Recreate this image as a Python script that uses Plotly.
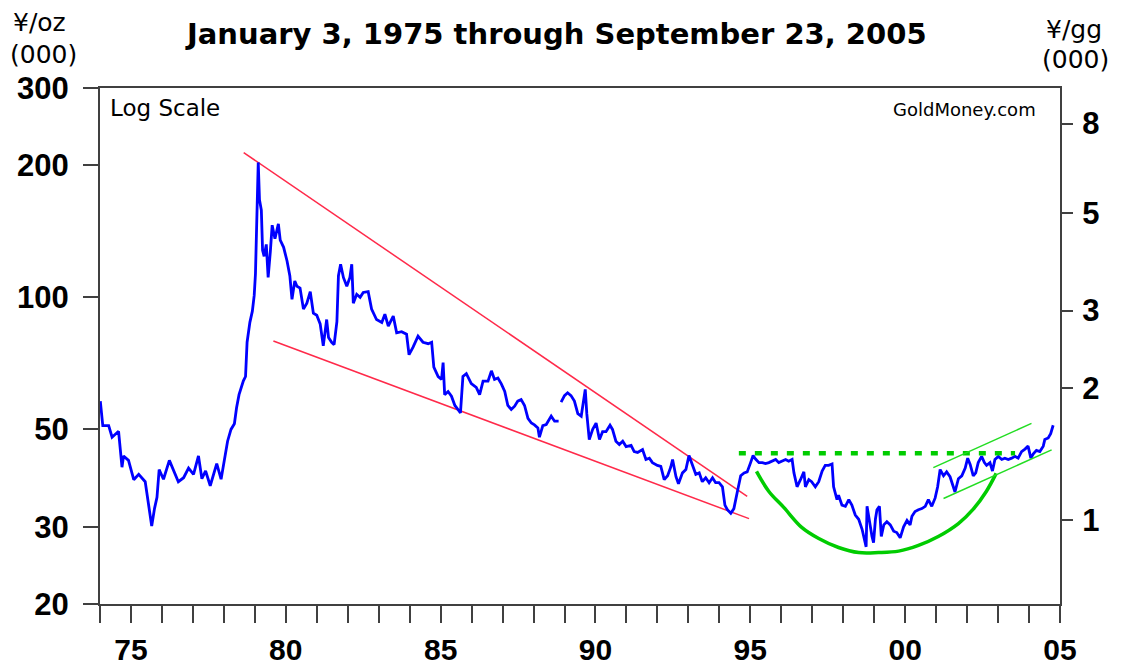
import plotly.graph_objects as go
import math

# ---- Data (thousand yen per ounce), decimal years ----
gold_years = [
    1975.01, 1975.09, 1975.28, 1975.39, 1975.60, 1975.71, 1975.76, 1975.92,
    1976.09, 1976.25, 1976.46, 1976.57, 1976.67, 1976.76, 1976.84, 1976.91,
    1977.05, 1977.24, 1977.41, 1977.53, 1977.70, 1977.86, 1978.02, 1978.18,
    1978.29, 1978.41, 1978.56, 1978.77, 1978.91, 1979.02, 1979.12, 1979.23,
    1979.34, 1979.41, 1979.49, 1979.63, 1979.70, 1979.75, 1979.84, 1979.92,
    1979.98, 1980.02, 1980.07, 1980.11, 1980.15, 1980.21, 1980.25, 1980.30,
    1980.37, 1980.43, 1980.50, 1980.56, 1980.65, 1980.76, 1980.82, 1980.93,
    1981.04, 1981.13, 1981.20, 1981.29,
    1981.36, 1981.46, 1981.57, 1981.68, 1981.79, 1981.89, 1982.00, 1982.11,
    1982.21, 1982.32, 1982.38, 1982.48, 1982.56, 1982.65, 1982.70, 1982.77,
    1982.86, 1982.97, 1983.07, 1983.13, 1983.18, 1983.29, 1983.40, 1983.50,
    1983.66, 1983.77, 1983.93, 1984.10, 1984.20, 1984.31, 1984.47, 1984.58,
    1984.74, 1984.90, 1984.98, 1985.11, 1985.27, 1985.43, 1985.60, 1985.71,
    1985.78, 1985.92, 1986.03, 1986.08, 1986.13, 1986.24, 1986.35, 1986.46,
    1986.56, 1986.64, 1986.72, 1986.83, 1986.99, 1987.15, 1987.26,
    1987.37, 1987.53, 1987.64, 1987.74, 1987.85, 1987.96, 1988.07, 1988.17,
    1988.28, 1988.39, 1988.49, 1988.60, 1988.71, 1988.82, 1988.93, 1989.03,
    1989.14, 1989.19, 1989.30, 1989.41, 1989.57, 1989.68, 1989.81, 1989.85,
    1989.89, 1990.00, 1990.10, 1990.21, 1990.32, 1990.43, 1990.54, 1990.61,
    1990.67, 1990.72, 1990.80, 1990.91, 1991.02, 1991.13, 1991.23, 1991.34,
    1991.47, 1991.55, 1991.66, 1991.77, 1991.88, 1991.99, 1992.15, 1992.25,
    1992.36, 1992.52, 1992.63, 1992.74, 1992.84, 1993.00, 1993.11, 1993.22,
    1993.33, 1993.43, 1993.49, 1993.60, 1993.68,
    1993.81, 1993.92, 1994.02, 1994.13, 1994.24, 1994.35, 1994.45, 1994.56,
    1994.67, 1994.78, 1994.88, 1994.99, 1995.10, 1995.18, 1995.26, 1995.37,
    1995.47, 1995.58, 1995.69, 1995.80, 1995.90, 1996.01, 1996.09, 1996.17,
    1996.28, 1996.39, 1996.49, 1996.60, 1996.71, 1996.82, 1996.92, 1997.03,
    1997.14, 1997.24, 1997.35, 1997.41, 1997.51, 1997.62, 1997.73, 1997.78,
    1997.89, 1997.98, 1998.10, 1998.21, 1998.32, 1998.42, 1998.53, 1998.64,
    1998.69, 1998.80, 1998.85, 1998.96, 1999.07, 1999.18, 1999.28, 1999.39,
    1999.50, 1999.61,
    1999.66, 1999.74, 1999.77, 1999.82, 1999.93, 1999.98, 2000.04, 2000.09,
    2000.17, 2000.23, 2000.31, 2000.41, 2000.52, 2000.63, 2000.73, 2000.84,
    2000.95, 2001.06, 2001.16, 2001.22, 2001.32, 2001.43, 2001.54, 2001.65,
    2001.75, 2001.86, 2001.97, 2002.05, 2002.13, 2002.24, 2002.34, 2002.45,
    2002.56, 2002.61, 2002.72, 2002.83, 2002.94, 2003.02, 2003.10, 2003.20,
    2003.28, 2003.36, 2003.47, 2003.56, 2003.63, 2003.74, 2003.82, 2003.90,
    2004.01, 2004.12, 2004.22, 2004.33, 2004.44, 2004.55, 2004.65, 2004.76,
    2004.87, 2004.97, 2005.06, 2005.14, 2005.24, 2005.35, 2005.46, 2005.51,
    2005.62, 2005.70, 2005.78,
]
gold_values = [
    58, 51, 51, 48, 49.5, 41, 43.5, 42.5,
    38.4, 39.5, 38, 34, 30.1, 33, 35, 40.5,
    38.5, 42.5, 40, 38, 38.8, 40.8, 39.5, 43.5,
    38.6, 40.2, 37.2, 41.8, 38.5, 42.5, 47, 50,
    51.5, 56, 60, 64.5, 66, 79, 87.7, 93,
    101, 113, 172, 203, 167, 158, 128, 124,
    132, 111, 127, 146, 136, 147, 135, 130,
    121, 112, 99, 109,
    106, 105, 94, 97, 103, 92, 91, 87,
    77.5, 89, 81, 79, 78, 88, 112, 119,
    111, 106, 111, 119, 97, 101.6, 100, 102.6,
    103, 94, 89, 87.6, 91.5, 86, 90.6, 83,
    83.5, 82.4, 74, 77, 81.6, 79, 78.4, 79,
    69.3, 66, 65, 71, 60, 61, 59.5, 56.7,
    55.5, 54.5, 66, 67, 63.6, 62.3, 60,
    64.4, 64.4, 68, 65, 65.5, 63.5, 61, 56.7,
    55.5, 56.5, 58, 58.5, 56.7, 53, 51.7, 51.2,
    50.4, 48, 51, 51.3, 53.6, 52.2, 52.2, None,
    57.7, 59.7, 60.6, 59.7, 58, 54.3, 53.6, 57.7,
    61.7, 54.3, 47.4, 50, 51.7, 47.4, 49.4, 49.4,
    51.1, 50, 47, 46.2, 47, 45.7, 46, 44.5,
    44.3, 45, 42.7, 43, 42, 41.4, 41.2, 38.4,
    39.2, 41, 42.7, 39, 37.6,
    39.8, 40.5, 43.6, 41.4, 39.5, 39.8, 38, 38.8,
    37.8, 38.8, 37.8, 37.8, 37, 33.6, 32.8, 32.2,
    33, 36, 39.2, 39.8, 40, 42, 43.6, 42.8,
    42, 42, 41.8, 42, 42.3, 42.7, 42, 42.3,
    42.7, 42.3, 42.7, 39.8, 37, 38.4, 40, 37,
    38.4, 38, 37, 38, 40.2, 41.4, 41.4, 41.7,
    37, 34.6, 35.4, 33.6, 33.4, 34.6, 33.6, 31.9,
    31.2, 29.6,
    28.5, 27, 33.4, 31.7, 28.5, 27.6, 31.2, 32.8,
    33.4, 28.5, 30.3, 30.8, 30.3, 29.3, 29.1, 28.3,
    30, 31, 30.3, 31.7, 32.5, 32.8, 33, 33.4,
    34.6, 33.4, 34.9, 37, 40.5, 39.2, 40, 39,
    37, 36, 38.6, 39.2, 40.8, 43, 41.6, 39.2,
    39.8, 42, 43.4, 42, 41.4, 42, 40.2, 42.7,
    43.4, 42.7, 43, 42.7, 43, 43.4, 43, 44.5,
    45.1, 45.8, 43, 44, 44.8, 44.5, 45.8, 47.4,
    47.8, 48.9, 51.1,
]

# Trend lines drawn on the chart (decimal year, thousand yen/oz)
upper_red_years = [1979.64, 1995.90]
upper_red_values = [213.7, 35.2]
lower_red_years = [1980.60, 1995.96]
lower_red_values = [79.5, 31.3]
resistance_years = [1995.63, 2004.55]
resistance_values = [44.1, 44.1]
cup_years = [1996.20, 1996.60, 1997.08, 1997.66, 1998.21, 1998.85, 1999.50,
             2000.14, 2000.79, 2001.43, 2002.07, 2002.72, 2003.20, 2003.62, 2003.94]
cup_values = [40.1, 36.1, 33.2, 29.9, 28.2, 26.9, 26.2,
              26.2, 26.4, 27.2, 28.5, 30.5, 32.9, 36.1, 39.7]
channel_upper_years = [2001.91, 2005.08]
channel_upper_values = [40.9, 51.6]
channel_lower_years = [2002.24, 2005.73]
channel_lower_values = [34.8, 44.9]

# Axis ticks
left_ticks = [20, 30, 50, 100, 200, 300]
right_ticks = [1, 2, 3, 5, 8]
year_label_pos = [1976, 1981, 1986, 1991, 1996, 2001, 2006]
year_labels = ["75", "80", "85", "90", "95", "00", "05"]
OZ_PER_GG = 31.1035

fig = go.Figure()

fig.add_trace(go.Scatter(x=upper_red_years, y=upper_red_values, mode="lines",
                         line=dict(color="#ff2a4a", width=1.5), hoverinfo="skip"))
fig.add_trace(go.Scatter(x=lower_red_years, y=lower_red_values, mode="lines",
                         line=dict(color="#ff2a4a", width=1.5), hoverinfo="skip"))
fig.add_trace(go.Scatter(x=gold_years, y=gold_values, mode="lines",
                         connectgaps=False,
                         line=dict(color="#0000ff", width=2.8)))
fig.add_trace(go.Scatter(x=resistance_years, y=resistance_values, mode="lines",
                         line=dict(color="#00cc00", width=4.5, dash="7px,9px"), hoverinfo="skip"))
fig.add_trace(go.Scatter(x=cup_years, y=cup_values, mode="lines",
                         line=dict(color="#00cc00", width=3.5, shape="spline"), hoverinfo="skip"))
fig.add_trace(go.Scatter(x=channel_upper_years, y=channel_upper_values, mode="lines",
                         line=dict(color="#22dd22", width=1.5), hoverinfo="skip"))
fig.add_trace(go.Scatter(x=channel_lower_years, y=channel_lower_values, mode="lines",
                         line=dict(color="#22dd22", width=1.5), hoverinfo="skip"))
# right axis (yen per goldgram)
fig.add_trace(go.Scatter(x=[gold_years[0]], y=[gold_values[0] / OZ_PER_GG], yaxis="y2",
                         mode="markers", marker=dict(opacity=0), hoverinfo="skip"))

tick_font = dict(family="Liberation Sans, Arial, sans-serif", size=31, color="black", weight="bold")
xtick_font = dict(family="Liberation Sans, Arial, sans-serif", size=30, color="black", weight="bold")
axis_col = "#404040"

# The page places the figure 8px in from the top-left corner, so margins compensate
fig.update_layout(
    width=1122, height=667,
    margin=dict(l=92, r=70, t=80, b=71, autoexpand=False),
    paper_bgcolor="white", plot_bgcolor="white",
    showlegend=False,
    xaxis=dict(
        range=[1975.0, 2006.001], showgrid=False, zeroline=False, automargin=False,
        tickmode="array", tickvals=year_label_pos, ticktext=year_labels,
        ticks="outside", ticklen=17, tickwidth=2, tickcolor=axis_col,
        ticklabelstandoff=1,
        showline=True, linecolor=axis_col, linewidth=2, mirror=True,
        tickfont=xtick_font,
        minor=dict(tickmode="linear", tick0=1975, dtick=1, ticks="outside",
                   ticklen=17, tickwidth=2, tickcolor=axis_col),
    ),
    yaxis=dict(
        type="log", range=[math.log10(20), math.log10(300)],
        showgrid=False, zeroline=False, automargin=False,
        tickmode="array", tickvals=left_ticks, ticktext=[str(v) for v in left_ticks],
        ticks="outside", ticklen=15, tickwidth=2, tickcolor=axis_col,
        ticklabelstandoff=8,
        showline=True, linecolor=axis_col, linewidth=2, mirror=True,
        tickfont=tick_font,
    ),
    yaxis2=dict(
        type="log", overlaying="y", side="right", anchor="x", automargin=False,
        range=[math.log10(20 / OZ_PER_GG), math.log10(300 / OZ_PER_GG)],
        showgrid=False, zeroline=False, showline=False,
        tickmode="array", tickvals=right_ticks, ticktext=[str(v) for v in right_ticks],
        ticks="outside", ticklen=12, tickwidth=2, tickcolor=axis_col,
        ticklabelstandoff=3,
        tickfont=tick_font,
    ),
)

def px_x(p):
    return (p - 100) / 960.0

def px_y(p):
    return (604 - p) / 516.0

unit_font = dict(family="DejaVu Sans, sans-serif", size=25, color="black")
annots = [
    dict(text="<b>January 3, 1975 through September 23, 2005</b>", x=px_x(556), y=px_y(34),
         xanchor="center", yanchor="middle",
         font=dict(family="DejaVu Sans, sans-serif", size=29, color="black")),
    dict(text="¥/oz", x=px_x(11), y=px_y(22), xanchor="left", yanchor="middle", font=unit_font),
    dict(text="(000)", x=px_x(8), y=px_y(54), xanchor="left", yanchor="middle", font=unit_font),
    dict(text="¥/gg", x=px_x(1044), y=px_y(29), xanchor="left", yanchor="middle", font=unit_font),
    dict(text="(000)", x=px_x(1040), y=px_y(60), xanchor="left", yanchor="middle", font=unit_font),
    dict(text="Log Scale", x=px_x(108), y=px_y(108), xanchor="left", yanchor="middle",
         font=dict(family="DejaVu Sans, sans-serif", size=23, color="black")),
    dict(text="GoldMoney.com", x=px_x(1038), y=px_y(110), xanchor="right", yanchor="middle",
         font=dict(family="DejaVu Sans, sans-serif", size=18, color="black")),
]
for a in annots:
    fig.add_annotation(xref="paper", yref="paper", showarrow=False, **a)

fig.write_html("out.html")
